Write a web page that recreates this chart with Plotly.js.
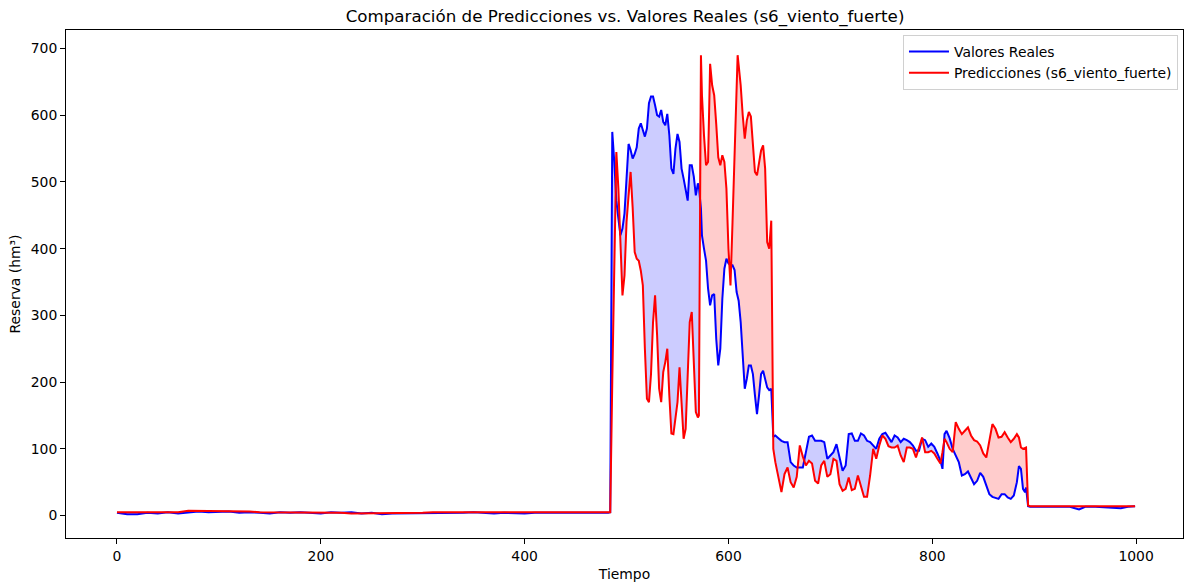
<!DOCTYPE html>
<html>
<head>
<meta charset="utf-8">
<script src="https://cdn.plot.ly/plotly-3.0.1.min.js"></script>
<style>html,body{margin:0;padding:0;background:#fff;}#chart{width:1186px;height:585px;}</style>
</head>
<body>
<div id="chart"></div>
<script>
// Tiempo (eje x)
const tiempo = [
0,10,20,30,40,50,60,70,80,90,100,110,120,130,140,150,160,170,180,190,200,210,220,230,240,250,260,270,280,290,300,310,320,330,340,350,360,370,380,390,400,410,420,430,440,450,460,470,480,482,484,
486,488,490,492,494,496,498,500,502,504,506,508,510,512,514,516,518,520,522,524,526,528,530,532,534,536,538,540,542,544,546,548,550,552,554,556,558,560,562,564,566,568,570,571,573,574,576,578,580,582,584,586,588,590,592,594,596,598,600,602,604,606,608,609,610,612,614,616,618,620,622,624,626,628,630,632,634,636,638,640,642,644,
646,649,652,655,658,661,664,667,670,673,676,679,682,685,688,691,694,697,700,703,706,709,712,715,718,721,724,727,730,733,736,739,742,745,748,751,754,757,760,763,766,769,772,775,778,781,784,787,790,793,796,799,802,805,808,810,812,814,817,820,823,826,829,832,835,838,841,844,847,850,853,856,859,862,865,868,871,874,877,880,883,885,887,889,891,892,894,
896,905,915,925,935,944,950,960,970,978,985,992,999
];
// Valores Reales
const valoresReales = [
4,2,2,4,3,5,3,5,6,5,5,6,4,5,4,3,5,4,5,4,3,5,4,5,3,4,2,3,3,4,3,4,4,3,4,5,4,3,4,3,3,4,4,3,4,3,4,4,3,4,5,
575,530,472,445,420,430,453,505,557,548,535,542,552,580,588,578,568,580,618,628,628,615,600,598,608,590,585,602,570,520,512,550,572,560,520,505,490,472,525,525,508,480,498,493,460,420,400,382,340,315,330,332,265,225,250,325,370,385,378,375,375,368,335,330,322,290,235,190,205,225,225,212,180,152,180,212,217,205,192,188,190,118,
120,116,112,110,110,80,75,72,72,72,95,118,120,112,112,112,110,85,90,95,107,88,67,75,122,123,112,112,123,120,112,110,105,100,115,122,124,117,110,120,117,110,115,113,110,105,97,97,115,113,103,108,103,93,82,70,122,127,116,100,90,80,60,62,66,56,47,52,64,58,45,32,28,27,25,32,32,27,25,30,50,74,70,40,35,42,14,
13,13,13,13,13,9,13,13,12,11,11,13,14
];
// Predicciones (s6_viento_fuerte)
const predicciones = [
5,5,4,4,4,4,5,7,7,7,6,6,6,6,5,5,5,5,5,5,5,4,4,3,3,4,4,4,4,4,4,5,5,4,5,5,4,4,5,5,4,5,5,4,4,5,5,4,5,5,5,
200,400,545,490,400,330,360,440,480,515,462,395,385,382,367,345,250,175,170,212,290,330,270,190,170,215,230,250,180,123,122,148,170,222,165,115,130,210,290,305,220,155,147,150,690,630,570,525,530,677,645,630,587,537,525,540,530,490,400,345,440,545,612,690,675,645,600,565,592,605,598,560,515,510,530,547,555,520,410,400,442,100,
80,55,35,62,72,50,42,58,105,88,75,82,78,52,48,75,82,58,62,85,82,47,37,40,57,38,40,60,45,28,28,60,100,85,105,120,115,104,102,102,105,90,80,102,102,100,87,102,117,95,95,97,93,85,78,95,115,110,100,95,140,130,122,127,132,120,113,111,105,93,87,112,137,130,117,118,125,117,110,115,122,117,102,100,101,102,15,
14,14,14,14,14,13,14,14,14,13,13,13,14
];

const maxVals = valoresReales.map((r, i) => Math.max(r, predicciones[i]));

const noLine = {width: 0, color: 'rgba(0,0,0,0)'};
const traces = [
  {x: tiempo, y: predicciones, mode: 'lines', line: noLine, showlegend: false, hoverinfo: 'skip'},
  {x: tiempo, y: maxVals, mode: 'lines', line: noLine, fill: 'tonexty', fillcolor: 'rgba(0,0,255,0.2)', showlegend: false, hoverinfo: 'skip'},
  {x: tiempo, y: valoresReales, mode: 'lines', line: noLine, showlegend: false, hoverinfo: 'skip'},
  {x: tiempo, y: maxVals, mode: 'lines', line: noLine, fill: 'tonexty', fillcolor: 'rgba(255,0,0,0.2)', showlegend: false, hoverinfo: 'skip'},
  {x: tiempo, y: valoresReales, mode: 'lines', name: 'Valores Reales', line: {color: '#0000ff', width: 2}},
  {x: tiempo, y: predicciones, mode: 'lines', name: 'Predicciones (s6_viento_fuerte)', line: {color: '#ff0000', width: 2}}
];

const font = {family: 'DejaVu Sans, sans-serif', size: 13.9, color: '#000'};
const layout = {
  width: 1186, height: 585,
  margin: {l: 66, r: 3, t: 30, b: 47},
  paper_bgcolor: '#fff', plot_bgcolor: '#fff',
  font: font,
  title: {text: 'Comparación de Predicciones vs. Valores Reales (s6_viento_fuerte)', font: {family: 'DejaVu Sans, sans-serif', size: 16.7, color: '#000'}, x: 0.527, xanchor: 'center', y: 0.972, yref: 'container', yanchor: 'middle'},
  xaxis: {
    range: [-50, 1046], tickvals: [0, 200, 400, 600, 800, 1000], ticks: 'outside', ticklen: 5, tickcolor: '#000',
    showline: true, mirror: true, linecolor: '#000', linewidth: 1, showgrid: false, zeroline: false,
    title: {text: 'Tiempo', font: font, standoff: 6}
  },
  yaxis: {
    range: [-33.7, 727.8], tickvals: [0, 100, 200, 300, 400, 500, 600, 700], ticks: 'outside', ticklen: 5, tickcolor: '#000',
    showline: true, mirror: true, linecolor: '#000', linewidth: 1, showgrid: false, zeroline: false,
    title: {text: 'Reserva (hm³)', font: font, standoff: 6}
  },
  legend: {
    x: 0.9955, y: 0.99, xanchor: 'right', yanchor: 'top', traceorder: 'normal',
    bgcolor: 'rgba(255,255,255,0.8)', bordercolor: '#d0d0d0', borderwidth: 1,
    font: font, tracegroupgap: 0, itemwidth: 40
  },
  showlegend: true
};

Plotly.newPlot('chart', traces, layout, {displayModeBar: false, staticPlot: true});
</script>
</body>
</html>
